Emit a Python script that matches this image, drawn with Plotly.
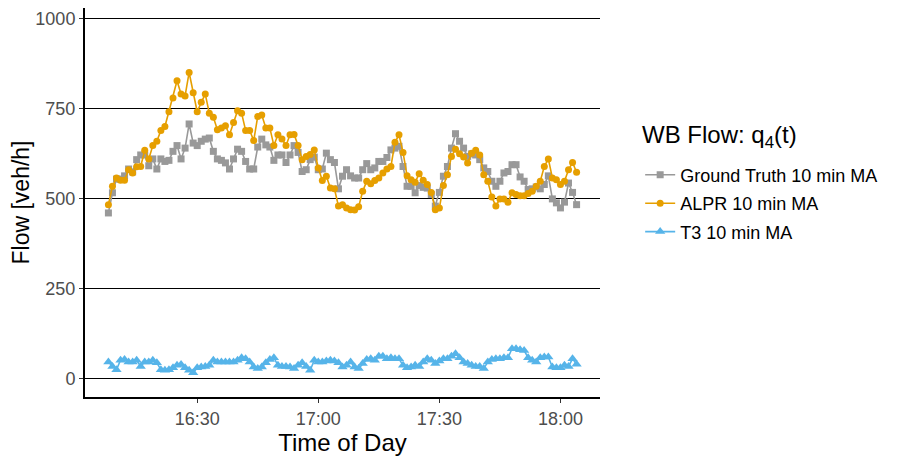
import pandas as pd
import plotly.graph_objects as go

# one value per minute, starting 16:08
start_time = "2023-05-10 16:08"
n_points = 117

ground_truth = [
    461, 517, 555, 555, 564, 583, 575, 609, 622, 622, 592, 611, 583, 611, 604, 607,
    632, 648, 611, 641, 708, 655, 648, 660, 666, 669, 632, 611, 607, 600, 583, 611,
    638, 632, 604, 583, 583, 644, 666, 650, 644, 607, 622, 622, 601, 622, 648, 629,
    576, 581, 609, 616, 581, 583, 627, 609, 601, 528, 563, 581, 564, 558, 558, 581,
    598, 581, 586, 604, 604, 615, 636, 641, 646, 590, 535, 535, 517, 537, 532, 530,
    512, 480, 518, 563, 590, 641, 681, 660, 641, 618, 625, 622, 609, 586, 576, 549,
    535, 549, 572, 576, 595, 595, 561, 549, 526, 528, 533, 528, 540, 564, 500, 489,
    475, 491, 544, 518, 484,
]

alpr = [
    484, 535, 558, 552, 552, 581, 572, 589, 590, 635, 611, 648, 660, 690, 701, 742,
    780, 828, 791, 786, 851, 795, 742, 768, 791, 738, 727, 692, 697, 703, 678, 712,
    745, 738, 690, 690, 662, 729, 733, 697, 697, 648, 678, 666, 648, 678, 679, 648,
    609, 618, 623, 636, 586, 551, 563, 530, 528, 480, 484, 475, 470, 469, 478, 521,
    549, 542, 551, 558, 572, 583, 590, 657, 678, 629, 564, 553, 546, 570, 552, 540,
    518, 470, 475, 537, 567, 618, 638, 625, 616, 600, 627, 635, 622, 567, 549, 505,
    480, 500, 500, 491, 517, 512, 509, 509, 515, 521, 535, 549, 590, 611, 558, 553,
    540, 549, 581, 601, 574,
]

t3 = [
    47, 35, 26, 52, 54, 47, 47, 52, 35, 47, 47, 52, 45, 26, 24, 26,
    31, 38, 40, 31, 24, 17, 31, 33, 35, 38, 52, 47, 47, 47, 47, 47,
    52, 59, 56, 47, 33, 29, 33, 45, 54, 59, 38, 35, 35, 33, 29, 38,
    45, 35, 24, 52, 47, 47, 50, 52, 50, 45, 33, 38, 47, 33, 29, 43,
    54, 56, 52, 63, 63, 56, 59, 56, 56, 38, 31, 33, 38, 35, 47, 56,
    52, 43, 50, 56, 56, 63, 70, 59, 47, 43, 38, 35, 35, 29, 47, 54,
    56, 56, 59, 59, 84, 84, 81, 79, 59, 52, 47, 59, 61, 61, 33, 31,
    31, 38, 35, 56, 41,
]

series_names = ["Ground Truth 10 min MA", "ALPR 10 min MA", "T3 10 min MA"]
tick_times = ["16:30", "17:00", "17:30", "18:00"]
legend_title = "WB Flow: q<sub>4</sub>(t)"

times = pd.date_range(start_time, periods=n_points, freq="1min")
day = start_time.split(" ")[0]

fig = go.Figure()

styles = [
    (ground_truth, "#999999", "square", 7),
    (alpr, "#E69F00", "circle", 7),
    (t3, "#56B4E9", "triangle-up", 9),
]
for (values, color, symbol, size), name in zip(styles, series_names):
    fig.add_trace(
        go.Scatter(
            x=times,
            y=values,
            mode="lines+markers",
            name=name,
            legendgroup=name,
            line=dict(color=color, width=1.6),
            marker=dict(color=color, symbol=symbol, size=size),
        )
    )

# ggplot-like 5% expansion on x
span = times[-1] - times[0]
x_range = [times[0] - span * 0.05, times[-1] + span * 0.05]

# the page body adds 8px around the figure, margins take that into account
fig.update_layout(
    width=900,
    height=458,
    margin=dict(l=77, r=308, t=0, b=69),
    plot_bgcolor="white",
    paper_bgcolor="white",
    font=dict(family="Liberation Sans, Arial, sans-serif", color="black"),
    legend=dict(
        font=dict(size=18),
        x=1.078,
        xanchor="left",
        y=0.618,
        yanchor="top",
        itemwidth=30,
        tracegroupgap=2,
        bgcolor="rgba(0,0,0,0)",
    ),
)

# legend title as a separate text so the gap below it can match
fig.add_annotation(
    text=legend_title,
    xref="paper",
    yref="paper",
    x=1.0777,
    y=0.669,
    xanchor="left",
    yanchor="middle",
    showarrow=False,
    font=dict(size=24),
)

fig.update_xaxes(
    range=x_range,
    tickvals=[pd.Timestamp(f"{day} {t}") for t in tick_times],
    ticktext=tick_times,
    showgrid=False,
    zeroline=False,
    showline=True,
    linecolor="black",
    linewidth=2,
    ticks="outside",
    ticklen=4,
    tickcolor="#333333",
    tickfont=dict(size=18, color="#4D4D4D"),
    title=dict(text="Time of Day", font=dict(size=24), standoff=6),
)

fig.update_yaxes(
    range=[-50, 1030],
    tickvals=[0, 250, 500, 750, 1000],
    showgrid=True,
    gridcolor="black",
    gridwidth=1,
    zeroline=False,
    showline=True,
    linecolor="black",
    linewidth=2,
    ticks="outside",
    ticklen=4,
    tickcolor="#333333",
    tickfont=dict(size=18, color="#4D4D4D"),
    title=dict(text="Flow [veh/h]", font=dict(size=23), standoff=10),
)

fig.write_html("out.html")
